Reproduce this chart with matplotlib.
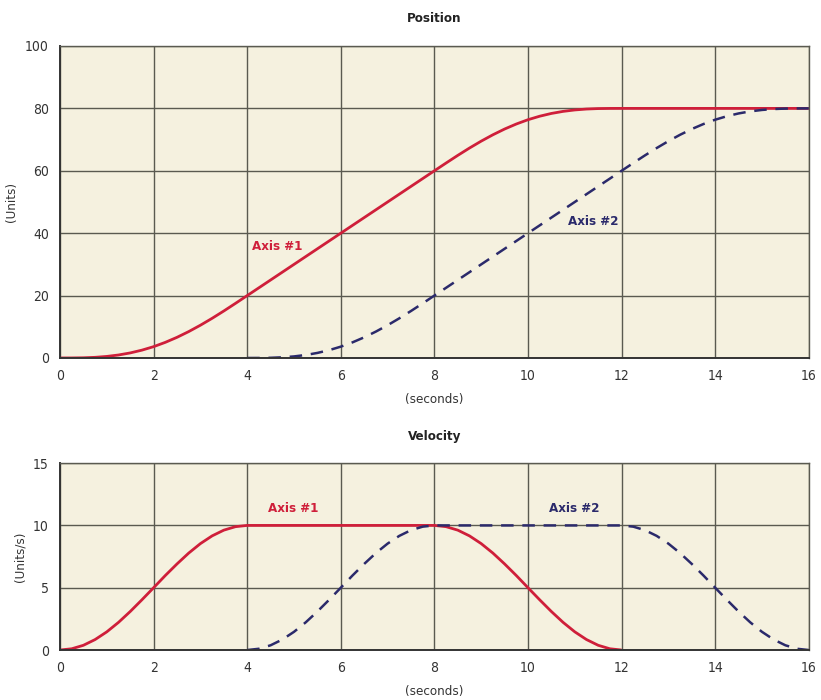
import matplotlib
matplotlib.use("Agg")
import matplotlib.pyplot as plt

plt.rcParams['font.family'] = ['DejaVu Sans']
plt.rcParams['font.stretch'] = 'condensed'

time = [0, 0.25, 0.5, 0.75, 1, 1.25, 1.5, 1.75, 2, 2.25, 2.5, 2.75, 3, 3.25, 3.5, 3.75,
        4, 4.25, 4.5, 4.75, 5, 5.25, 5.5, 5.75, 6, 6.25, 6.5, 6.75, 7, 7.25, 7.5, 7.75,
        8, 8.25, 8.5, 8.75, 9, 9.25, 9.5, 9.75, 10, 10.25, 10.5, 10.75, 11, 11.25, 11.5, 11.75,
        12, 12.25, 12.5, 12.75, 13, 13.25, 13.5, 13.75, 14, 14.25, 14.5, 14.75, 15, 15.25, 15.5, 15.75,
        16]

pos_axis1 = [0, 0.01, 0.06, 0.21, 0.50, 0.96, 1.62, 2.51, 3.63, 5.01, 6.62, 8.46, 10.50, 12.71, 15.06, 17.51,
             20, 22.5, 25, 27.5, 30, 32.5, 35, 37.5, 40, 42.5, 45, 47.5, 50, 52.5, 55, 57.5,
             60, 62.49, 64.94, 67.29, 69.50, 71.54, 73.38, 74.99, 76.37, 77.49, 78.38, 79.04, 79.50, 79.79, 79.94, 79.99,
             80, 80, 80, 80, 80, 80, 80, 80, 80, 80, 80, 80, 80, 80, 80, 80,
             80]

time2 = [4, 4.25, 4.5, 4.75, 5, 5.25, 5.5, 5.75, 6, 6.25, 6.5, 6.75, 7, 7.25, 7.5, 7.75,
         8, 8.25, 8.5, 8.75, 9, 9.25, 9.5, 9.75, 10, 10.25, 10.5, 10.75, 11, 11.25, 11.5, 11.75,
         12, 12.25, 12.5, 12.75, 13, 13.25, 13.5, 13.75, 14, 14.25, 14.5, 14.75, 15, 15.25, 15.5, 15.75,
         16]
pos_axis2 = [0, 0.01, 0.06, 0.21, 0.50, 0.96, 1.62, 2.51, 3.63, 5.01, 6.62, 8.46, 10.50, 12.71, 15.06, 17.51,
             20, 22.5, 25, 27.5, 30, 32.5, 35, 37.5, 40, 42.5, 45, 47.5, 50, 52.5, 55, 57.5,
             60, 62.49, 64.94, 67.29, 69.50, 71.54, 73.38, 74.99, 76.37, 77.49, 78.38, 79.04, 79.50, 79.79, 79.94, 79.99,
             80]

time_v1 = [0, 0.25, 0.5, 0.75, 1, 1.25, 1.5, 1.75, 2, 2.25, 2.5, 2.75, 3, 3.25, 3.5, 3.75,
           4, 4.25, 4.5, 4.75, 5, 5.25, 5.5, 5.75, 6, 6.25, 6.5, 6.75, 7, 7.25, 7.5, 7.75,
           8, 8.25, 8.5, 8.75, 9, 9.25, 9.5, 9.75, 10, 10.25, 10.5, 10.75, 11, 11.25, 11.5, 11.75,
           12]
vel_axis1 = [0, 0.10, 0.38, 0.84, 1.46, 2.22, 3.09, 4.03, 5, 5.98, 6.91, 7.78, 8.54, 9.16, 9.62, 9.90,
             10, 10, 10, 10, 10, 10, 10, 10, 10, 10, 10, 10, 10, 10, 10, 10,
             10, 9.90, 9.62, 9.16, 8.54, 7.78, 6.91, 5.98, 5, 4.03, 3.09, 2.22, 1.46, 0.84, 0.38, 0.10,
             0]
vel_axis2 = [0, 0.10, 0.38, 0.84, 1.46, 2.22, 3.09, 4.03, 5, 5.98, 6.91, 7.78, 8.54, 9.16, 9.62, 9.90,
             10, 10, 10, 10, 10, 10, 10, 10, 10, 10, 10, 10, 10, 10, 10, 10,
             10, 9.90, 9.62, 9.16, 8.54, 7.78, 6.91, 5.98, 5, 4.03, 3.09, 2.22, 1.46, 0.84, 0.38, 0.10,
             0]

xticks = [0, 2, 4, 6, 8, 10, 12, 14, 16]
pos_yticks = [0, 20, 40, 60, 80, 100]
vel_yticks = [0, 5, 10, 15]

RED = '#cf1f3a'
BLUE = '#2b2a6b'
BG = '#f5f1df'
GRID = '#5a5a50'

fig = plt.figure(figsize=(8.21, 7.0), dpi=100)
ax1 = fig.add_axes([0.0731, 0.4886, 0.912, 0.4457])
ax2 = fig.add_axes([0.0731, 0.0714, 0.912, 0.267])


def style(ax, yticks, ylabel, title):
    ax.set_facecolor(BG)
    ax.set_xlim(0, 16)
    ax.set_ylim(yticks[0], yticks[-1])
    ax.set_xticks(xticks)
    ax.set_yticks(yticks)
    ax.grid(True, color=GRID, linewidth=1.0)
    ax.set_axisbelow(True)
    for s in ['top', 'right']:
        ax.spines[s].set_color(GRID)
        ax.spines[s].set_linewidth(1.0)
    for s in ['left', 'bottom']:
        ax.spines[s].set_color('#333333')
        ax.spines[s].set_linewidth(1.4)
    ax.tick_params(length=0, labelsize=10, colors='#333333', pad=8)
    ax.set_xlabel('(seconds)', fontsize=9.5, color='#333333', labelpad=7)
    ax.set_ylabel(ylabel, fontsize=9.5, color='#333333', labelpad=5)
    ax.set_title(title, fontsize=9.5, fontweight='bold', color='#222222', pad=17)


ax1.plot(time, pos_axis1, color=RED, lw=2.0, solid_capstyle='butt')
ax1.plot(time2, pos_axis2, color=BLUE, lw=1.8, dashes=(5, 3.5))
style(ax1, pos_yticks, '(Units)', 'Position')
ax1.text(4.1, 34.5, 'Axis #1', color=RED, fontsize=9.5, fontweight='bold')
ax1.text(10.85, 42.5, 'Axis #2', color=BLUE, fontsize=9.5, fontweight='bold')

ax2.plot(time_v1, vel_axis1, color=RED, lw=2.0, solid_capstyle='butt')
ax2.plot(time2, vel_axis2, color=BLUE, lw=1.8, dashes=(5, 3.5))
style(ax2, vel_yticks, '(Units/s)', 'Velocity')
ax2.text(4.45, 11.1, 'Axis #1', color=RED, fontsize=9.5, fontweight='bold')
ax2.text(10.45, 11.1, 'Axis #2', color=BLUE, fontsize=9.5, fontweight='bold')

fig.savefig('out.png', dpi=100, facecolor='white')
